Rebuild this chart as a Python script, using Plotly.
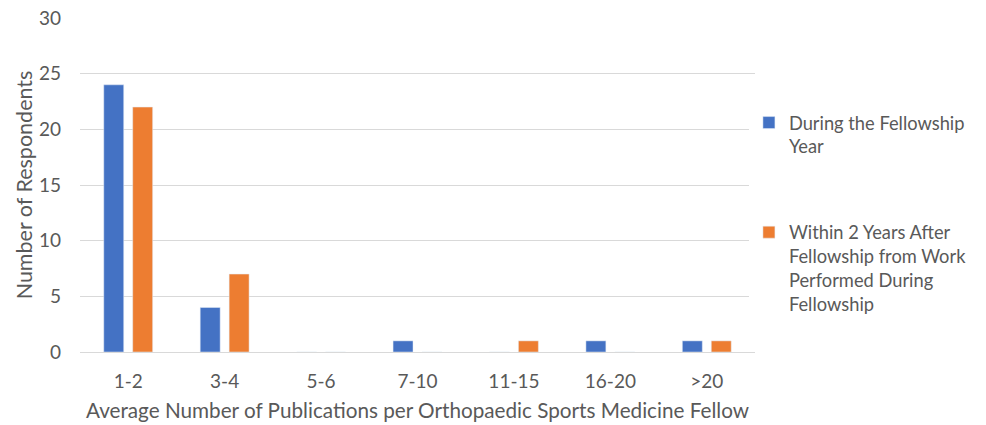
import plotly.graph_objects as go

categories = ["1-2", "3-4", "5-6", "7-10", "11-15", "16-20", ">20"]
during_fellowship = [24, 4, 0, 1, 0, 1, 1]
within_two_years = [22, 7, 0, 0, 1, 0, 1]
series_names = [
    "During the Fellowship<br>Year",
    "Within 2 Years After<br>Fellowship from Work<br>Performed During<br>Fellowship",
]

FONT = "Lato"
TEXT = "#595959"

fig = go.Figure()
fig.add_trace(go.Bar(x=categories, y=during_fellowship, name=series_names[0],
                     marker_color="#4472C4", legendgroup="a"))
fig.add_trace(go.Bar(x=categories, y=within_two_years, name=series_names[1],
                     marker_color="#ED7D31", legendgroup="b"))

fig.update_layout(
    width=986, height=425,
    margin=dict(l=80, r=231, t=18, b=73, autoexpand=False),
    paper_bgcolor="white", plot_bgcolor="white",
    barmode="group", bargap=0.40, bargroupgap=0.31,
    font=dict(family=FONT, color=TEXT, size=18),
    legend=dict(x=0.991, y=0.742, xanchor="left", yanchor="top",
                valign="top", tracegroupgap=59,
                font=dict(family=FONT, size=18.3, color=TEXT),
                itemwidth=30),
)
fig.update_xaxes(
    title=dict(text="Average Number of Publications per Orthopaedic Sports Medicine Fellow",
               font=dict(size=20.7), standoff=12),
    showline=True, linecolor="#d9d9d9", linewidth=1,
    ticks="", tickfont=dict(size=19), ticklabelstandoff=12,
)
fig.update_yaxes(
    title=dict(text="Number of Respondents", font=dict(size=21.5), standoff=0),
    range=[0, 30], dtick=5, showgrid=True, gridcolor="#d9d9d9", gridwidth=1,
    zeroline=False, tickfont=dict(size=19), ticks="", ticklabelstandoff=18,
)

fig.write_html("out.html")
